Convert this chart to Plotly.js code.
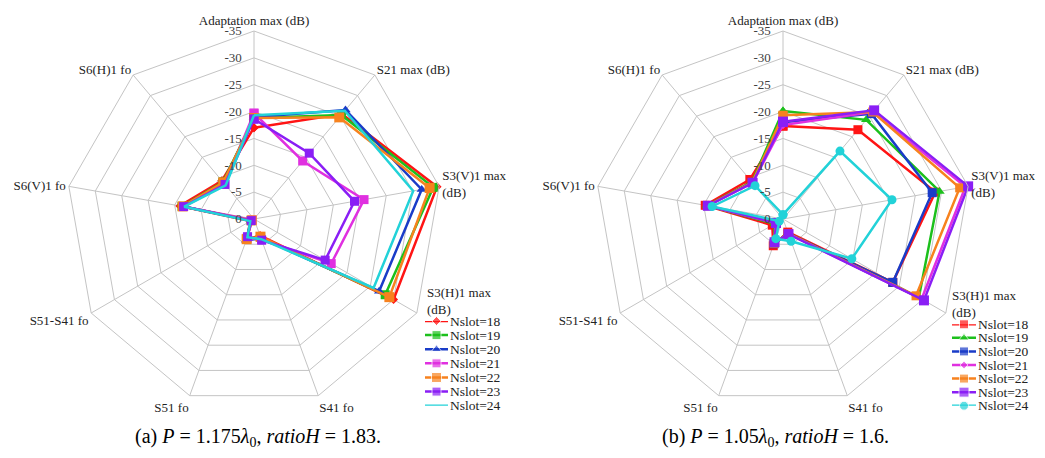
<!DOCTYPE html>
<html>
<head>
<meta charset="utf-8">
<script src="https://cdn.plot.ly/plotly-3.0.1.min.js"></script>
<style>html,body{margin:0;padding:0;background:#fff;}#chart{width:1045px;height:458px;}</style>
</head>
<body>
<div id="chart"></div>
<script>
// ---------- data ----------
const categories = ["Adaptation max (dB)", "S21 max (dB)", "S3(V)1 max (dB)", "S3(H)1 max (dB)",
                    "S41 fo", "S51 fo", "S51-S41 fo", "S6(V)1 fo", "S6(H)1 fo"];
// angular tick labels as drawn (S3(H)1 label drawn separately, above its vertex as in the reference)
const angularLabels = ["Adaptation max (dB)", "S21 max (dB)", "S3(V)1 max<br>(dB)", " ",
                       "S41 fo", "S51 fo", "S51-S41 fo", "S6(V)1 fo", "S6(H)1 fo"];
const s3hLabel = "S3(H)1 max<br>(dB)";
const seriesNames = ["Nslot=18", "Nslot=19", "Nslot=20", "Nslot=21", "Nslot=22", "Nslot=23", "Nslot=24"];
const radialTickVals = [-35, -30, -25, -20, -15, -10, -5, 0];
const radialTickText = ["-35", "-30", "-25", "-20", "-15", "-10", "-5", "0"];

// (a) P = 1.175 lambda0, ratioH = 1.83
const a_n18 = [-17.0, -25.5, -34.6, -30.0, -3.3, -4.0, -0.8, -14.0, -9.3];
const a_n19 = [-18.8, -25.3, -33.9, -28.2, -3.6, -4.0, -0.6, -13.6, -9.0];
const a_n20 = [-19.0, -26.5, -31.7, -26.9, -3.8, -4.2, -0.6, -13.4, -8.8];
const a_n21 = [-19.7, -14.1, -20.8, -16.6, -4.1, -3.8, -0.4, -13.4, -8.5];
const a_n22 = [-18.8, -24.7, -33.2, -29.1, -3.5, -4.0, -0.5, -13.5, -8.9];
const a_n23 = [-18.6, -16.0, -19.0, -15.3, -4.2, -3.5, -0.6, -13.3, -8.4];
const a_n24 = [-19.3, -26.3, -30.1, -25.7, -4.0, -3.6, -0.8, -13.2, -8.2];

// (b) P = 1.05 lambda0, ratioH = 1.6
const b_n18 = [-17.3, -21.7, -28.8, -23.6, -2.6, -5.3, -2.3, -14.7, -9.6];
const b_n19 = [-20.1, -24.1, -29.6, -29.2, -2.8, -4.8, -1.8, -14.4, -9.0];
const b_n20 = [-18.0, -25.6, -28.2, -23.6, -2.9, -4.9, -1.6, -14.3, -8.9];
const b_n21 = [-17.5, -26.0, -34.5, -29.8, -2.9, -4.8, -1.5, -14.2, -8.8];
const b_n22 = [-19.3, -26.0, -33.4, -28.6, -2.9, -4.8, -1.6, -14.3, -8.9];
const b_n23 = [-18.1, -26.4, -35.0, -30.3, -3.0, -4.6, -1.5, -14.2, -8.8];
const b_n24 = [-0.8, -16.5, -20.6, -14.8, -4.4, -3.9, -0.8, -13.4, -8.1];

const captionA = "(a) <i>P</i> = 1.175<i>λ</i><sub>0</sub>, <i>ratioH</i> = 1.83.";
const captionB = "(b) <i>P</i> = 1.05<i>λ</i><sub>0</sub>, <i>ratioH</i> = 1.6.";

// ---------- styles ----------
const colors = ["#ff1414", "#1cc01c", "#1a3cc8", "#e030e0", "#f7821e", "#8a1ef5", "#22d2d8"];
const stylesA = [
  {symbol: "diamond", size: 7}, {symbol: "square", size: 9}, {symbol: "triangle-up", size: 9},
  {symbol: "square", size: 9}, {symbol: "square", size: 10}, {symbol: "square", size: 9}, {symbol: "line-ns", size: 0}
];
const stylesB = [
  {symbol: "square", size: 9}, {symbol: "triangle-up", size: 9}, {symbol: "square", size: 9},
  {symbol: "diamond", size: 6}, {symbol: "square", size: 9}, {symbol: "square", size: 10}, {symbol: "circle", size: 9}
];
const FONT = "Liberation Serif, DejaVu Serif, serif";
const GRID = "#c4c4c4";
const PAD = "\u00a0\u00a0\u00a0";

const dataA = [a_n18, a_n19, a_n20, a_n21, a_n22, a_n23, a_n24];
const dataB = [b_n18, b_n19, b_n20, b_n21, b_n22, b_n23, b_n24];

// the radial axis runs from 0 dB at the centre to -35 dB at the rim (reversed):
// plotted as distance = -value so the library's radial scale stays increasing
const toRadius = v => -v;

const traces = [];
function addRadar(dataSet, styles, subplot) {
  dataSet.forEach((vals, i) => {
    const closed = vals.concat([vals[0]]);
    traces.push({
      type: "scatterpolar", subplot: subplot,
      r: closed.map(toRadius), theta: categories.concat([categories[0]]),
      customdata: closed,
      mode: styles[i].size > 0 ? "lines+markers" : "lines",
      name: seriesNames[i], showlegend: false,
      line: {color: colors[i], width: 2.5},
      marker: {color: colors[i], symbol: styles[i].symbol, size: styles[i].size}
    });
  });
}
addRadar(dataA, stylesA, "polar");
addRadar(dataB, stylesB, "polar2");

// custom compact legends
const annotations = [];
function addLegend(styles, xa, ya) {
  seriesNames.forEach((nm, i) => {
    traces.push({
      type: "scatter", xaxis: xa, yaxis: ya, x: [0, 0.5, 1], y: [i, i, i],
      mode: "lines+markers", showlegend: false, cliponaxis: false, hoverinfo: "skip",
      line: {color: colors[i], width: 2.5},
      marker: {color: colors[i], symbol: styles[i].symbol, size: [0, styles[i].size, 0]}
    });
    annotations.push({
      xref: xa, yref: ya, x: 1, y: i, text: nm, showarrow: false, xanchor: "left", yanchor: "middle",
      xshift: 0, font: {family: FONT, size: 13.5, color: "#222"}
    });
  });
}
addLegend(stylesA, "x", "y");
addLegend(stylesB, "x2", "y2");

// S3(H)1 labels
annotations.push({xref: "paper", yref: "paper", x: 425 / 1045, y: 1 - 301 / 458, text: s3hLabel, showarrow: false,
  xanchor: "left", yanchor: "middle", align: "left", font: {family: FONT, size: 13, color: "#222"}});
annotations.push({xref: "paper", yref: "paper", x: 950 / 1045, y: 1 - 304 / 458, text: s3hLabel, showarrow: false,
  xanchor: "left", yanchor: "middle", align: "left", font: {family: FONT, size: 13, color: "#222"}});

annotations.push({xref: "paper", yref: "paper", x: 258 / 1045, y: 1 - 437 / 458, text: captionA, showarrow: false,
  xanchor: "center", yanchor: "middle", font: {family: FONT, size: 20, color: "#000"}});
annotations.push({xref: "paper", yref: "paper", x: 775 / 1045, y: 1 - 437 / 458, text: captionB, showarrow: false,
  xanchor: "center", yanchor: "middle", font: {family: FONT, size: 20, color: "#000"}});

function polarLayout(domX) {
  return {
    domain: {x: domX, y: [1 - 407 / 458, 1 - 31 / 458]},
    bgcolor: "rgba(0,0,0,0)",
    gridshape: "linear",
    radialaxis: {
      range: [0, 35], autorange: false, angle: 90, side: "counterclockwise", tickangle: 90,
      tickmode: "array", tickvals: radialTickVals.map(toRadius), ticktext: radialTickText.map(t => t + PAD),
      ticks: "", showline: false,
      gridcolor: GRID, gridwidth: 1, tickfont: {family: FONT, size: 13, color: "#404040"}
    },
    angularaxis: {
      type: "category", categoryarray: categories, rotation: 90, direction: "clockwise",
      tickmode: "array", tickvals: categories, ticktext: angularLabels,
      ticks: "", showline: true, linecolor: GRID, linewidth: 1, gridcolor: GRID, gridwidth: 1,
      tickfont: {family: FONT, size: 13, color: "#222"}
    }
  };
}

const layout = {
  width: 1045, height: 458, margin: {l: 0, r: 0, t: 0, b: 0},
  paper_bgcolor: "#fff", plot_bgcolor: "rgba(0,0,0,0)", showlegend: false,
  polar: polarLayout([66 / 1045, 442 / 1045]),
  polar2: polarLayout([595 / 1045, 971 / 1045]),
  xaxis: {domain: [425 / 1045, 448 / 1045], range: [0, 1], visible: false, fixedrange: true},
  yaxis: {domain: [1 - 405.7 / 458, 1 - 321 / 458], range: [6, 0], visible: false, fixedrange: true},
  xaxis2: {domain: [952 / 1045, 976 / 1045], range: [0, 1], visible: false, fixedrange: true},
  yaxis2: {domain: [1 - 405.7 / 458, 1 - 324.3 / 458], range: [6, 0], visible: false, fixedrange: true},
  annotations: annotations
};

Plotly.newPlot("chart", traces, layout, {staticPlot: true, displayModeBar: false});
</script>
</body>
</html>
